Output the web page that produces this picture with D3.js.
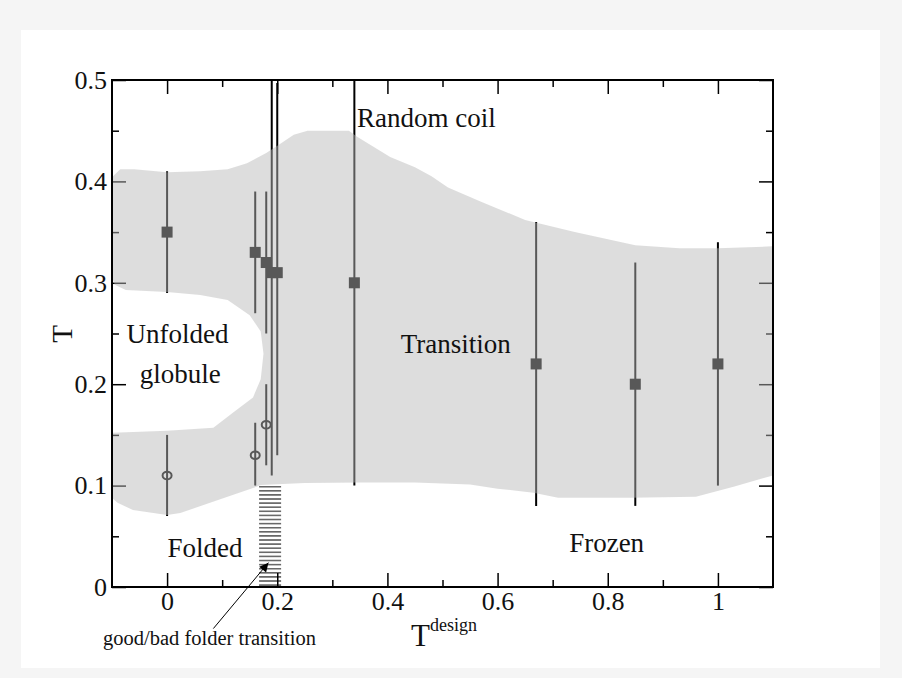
<!DOCTYPE html>
<html>
<head>
<meta charset="utf-8">
<script src="https://cdn.jsdelivr.net/npm/d3@7"></script>
<style>
  html, body { margin: 0; padding: 0; background: #f5f5f5; }
  svg { display: block; }
  text { font-family: "Liberation Serif", "Times New Roman", serif; fill: #111; }
</style>
</head>
<body>
<svg id="chart" width="902" height="678"></svg>
<script>
// Transition temperature (squares) vs design temperature, with error ranges
const transitionX  = [0, 0.16, 0.18, 0.19, 0.20, 0.34, 0.67, 0.85, 1.0];
const transitionT  = [0.35, 0.33, 0.32, 0.31, 0.31, 0.30, 0.22, 0.20, 0.22];
const transitionLo = [0.29, 0.27, 0.25, 0.11, 0.13, 0.10, 0.08, 0.08, 0.10];
const transitionHi = [0.41, 0.39, 0.39, 0.56, 0.497, 0.56, 0.36, 0.32, 0.34];

// Folding temperature (open circles) with error ranges
const foldingX  = [0, 0.16, 0.18];
const foldingT  = [0.11, 0.13, 0.16];
const foldingLo = [0.07, 0.10, 0.12];
const foldingHi = [0.15, 0.162, 0.20];

// Outline of the shaded transition band: upper edge (left to right)
const bandUpper = [[-0.1,0.404],[-0.085,0.412],[-0.06,0.412],[0.0,0.409],[0.06,0.410],[0.11,0.412],
  [0.145,0.418],[0.18,0.428],[0.205,0.437],[0.23,0.446],[0.255,0.450],[0.33,0.450],[0.345,0.444],
  [0.405,0.424],[0.45,0.414],[0.48,0.405],[0.51,0.394],[0.57,0.380],[0.65,0.362],[0.74,0.350],
  [0.85,0.337],[0.93,0.334],[1.0,0.334],[1.1,0.336]];
// lower edge (right to left)
const bandLower = [[1.1,0.110],[1.08,0.107],[1.03,0.099],[0.96,0.089],[0.84,0.088],[0.71,0.088],
  [0.665,0.093],[0.60,0.097],[0.55,0.101],[0.45,0.103],[0.35,0.103],[0.25,0.1025],[0.17,0.1005],
  [0.156,0.0976],[0.078,0.083],[0.024,0.073],[0.0,0.071],[-0.062,0.076],[-0.09,0.083],[-0.1,0.088]];
// unfolded-globule pocket cut into the band from the left
const globuleEdge = [[-0.1,0.152],[0.0,0.154],[0.084,0.157],[0.12,0.172],[0.156,0.187],[0.170,0.205],
  [0.175,0.23],[0.170,0.252],[0.15,0.268],[0.11,0.283],[0.06,0.288],[0.0,0.291],[-0.075,0.293],
  [-0.095,0.298],[-0.1,0.306]];

// Good/bad folder transition strip
const hatchX = [0.167, 0.207];
const hatchT = [0, 0.1];

// Axis ticks
const xMajor = [0, 0.2, 0.4, 0.6, 0.8, 1.0];
const xMinor = [0.1, 0.3, 0.5, 0.7, 0.9];
const xTickLabels = ["0", "0.2", "0.4", "0.6", "0.8", "1"];
const yMajor = [0, 0.1, 0.2, 0.3, 0.4, 0.5];
const yMinor = [0.05, 0.15, 0.25, 0.35, 0.45];
const yTickLabels = ["0", "0.1", "0.2", "0.3", "0.4", "0.5"];

// Region labels: [text, x, T, anchor]
const regionLabels = [
  ["Random coil", 0.345, 0.4536, "start"],
  ["Transition", 0.524, 0.231, "middle"],
  ["Unfolded", 0.019, 0.2406, "middle"],
  ["globule", 0.024, 0.201, "middle"],
  ["Folded", 0.069, 0.0296, "middle"],
  ["Frozen", 0.798, 0.0345, "middle"]
];
// Annotation arrow (tail, tip) in data units
const noteText = "good/bad folder transition";
const noteTail = [0.084, -0.041];
const noteTip = [0.184, 0.024];

const svg = d3.select("#chart");
const W = 902, H = 678;
const m = { left: 112, top: 80, right: 129, bottom: 91 };
const pw = W - m.left - m.right, ph = H - m.top - m.bottom;

const x = d3.scaleLinear().domain([-0.1, 1.1]).range([0, pw]);
const y = d3.scaleLinear().domain([0, 0.5]).range([ph, 0]);

// page panel
svg.append("rect").attr("x", 21).attr("y", 30).attr("width", 859).attr("height", 638).attr("fill", "#fff");

const g = svg.append("g").attr("transform", `translate(${m.left},${m.top})`);

const defs = svg.append("defs");
defs.append("clipPath").attr("id", "plotClip")
  .append("rect").attr("x", 0).attr("y", 0).attr("width", pw).attr("height", ph);
defs.append("clipPath").attr("id", "bandClip")
  .append("rect").attr("x", 1).attr("y", 1).attr("width", pw - 2).attr("height", ph - 2);
const pat = defs.append("pattern").attr("id", "hatch").attr("patternUnits", "userSpaceOnUse")
  .attr("width", 8).attr("height", 4.1);
pat.append("rect").attr("x", 0).attr("y", 0).attr("width", 8).attr("height", 1.6).attr("fill", "#666");
defs.append("marker").attr("id", "arrowHead").attr("viewBox", "0 0 10 10")
  .attr("refX", 10).attr("refY", 5).attr("markerWidth", 15).attr("markerHeight", 9)
  .attr("markerUnits", "userSpaceOnUse").attr("orient", "auto")
  .append("path").attr("d", "M0,0 L10,5 L0,10 Z").attr("fill", "#000");

// hatched strip
g.append("rect")
  .attr("x", x(hatchX[0])).attr("width", x(hatchX[1]) - x(hatchX[0]))
  .attr("y", y(hatchT[1])).attr("height", y(hatchT[0]) - y(hatchT[1]))
  .attr("fill", "url(#hatch)");

const marks = g.append("g").attr("clip-path", "url(#plotClip)");

// error bars
const tData = transitionX.map((v, i) => ({ x: v, t: transitionT[i], lo: transitionLo[i], hi: transitionHi[i] }));
const fData = foldingX.map((v, i) => ({ x: v, t: foldingT[i], lo: foldingLo[i], hi: foldingHi[i] }));

marks.selectAll("line.terr").data(tData).join("line").attr("class", "terr")
  .attr("x1", d => x(d.x)).attr("x2", d => x(d.x))
  .attr("y1", d => y(d.lo)).attr("y2", d => y(d.hi))
  .attr("stroke", "#000").attr("stroke-width", 2);
marks.selectAll("line.ferr").data(fData).join("line").attr("class", "ferr")
  .attr("x1", d => x(d.x)).attr("x2", d => x(d.x))
  .attr("y1", d => y(d.lo)).attr("y2", d => y(d.hi))
  .attr("stroke", "#000").attr("stroke-width", 2);

const sq = 11;
marks.selectAll("rect.tpt").data(tData).join("rect").attr("class", "tpt")
  .attr("x", d => x(d.x) - sq / 2).attr("y", d => y(d.t) - sq / 2)
  .attr("width", sq).attr("height", sq).attr("fill", "#000");
marks.selectAll("ellipse.fpt").data(fData).join("ellipse").attr("class", "fpt")
  .attr("cx", d => x(d.x)).attr("cy", d => y(d.t)).attr("rx", 4.5).attr("ry", 3.8)
  .attr("fill", "none").attr("stroke", "#000").attr("stroke-width", 2);

// axes with inward ticks on all four sides
function styleAxis(sel) {
  sel.select(".domain").remove();
  sel.selectAll(".tick line").attr("stroke", "#000").attr("stroke-width", 1.5);
  sel.selectAll("text").attr("font-size", 26).attr("fill", "#111")
    .attr("font-family", "Liberation Serif, Times New Roman, serif");
}
g.append("g").attr("transform", `translate(0,${ph})`)
  .call(d3.axisBottom(x).tickValues(xMajor).tickSize(-14).tickPadding(5)
    .tickFormat((d, i) => xTickLabels[i])).call(styleAxis);
g.append("g").attr("transform", `translate(0,${ph})`)
  .call(d3.axisBottom(x).tickValues(xMinor).tickSize(-7).tickFormat("")).call(styleAxis);
g.append("g")
  .call(d3.axisTop(x).tickValues(xMajor).tickSize(-14).tickFormat("")).call(styleAxis);
g.append("g")
  .call(d3.axisTop(x).tickValues(xMinor).tickSize(-7).tickFormat("")).call(styleAxis);
g.append("g")
  .call(d3.axisLeft(y).tickValues(yMajor).tickSize(-14).tickPadding(5)
    .tickFormat((d, i) => yTickLabels[i])).call(styleAxis);
g.append("g")
  .call(d3.axisLeft(y).tickValues(yMinor).tickSize(-7).tickFormat("")).call(styleAxis);
g.append("g").attr("transform", `translate(${pw},0)`)
  .call(d3.axisRight(y).tickValues(yMajor).tickSize(-14).tickFormat("")).call(styleAxis);
g.append("g").attr("transform", `translate(${pw},0)`)
  .call(d3.axisRight(y).tickValues(yMinor).tickSize(-7).tickFormat("")).call(styleAxis);

// translucent transition band laid over the data
const bandOutline = bandUpper.concat(bandLower, globuleEdge);
g.append("path")
  .attr("clip-path", "url(#bandClip)")
  .attr("d", d3.line().x(d => x(d[0])).y(d => y(d[1])).curve(d3.curveLinearClosed)(bandOutline))
  .attr("fill", "#b8b8b8").attr("fill-opacity", 0.48);

// frame
g.append("rect").attr("x", 0).attr("y", 0).attr("width", pw).attr("height", ph)
  .attr("fill", "none").attr("stroke", "#000").attr("stroke-width", 2);

// region labels
g.selectAll("text.region").data(regionLabels).join("text").attr("class", "region")
  .attr("x", d => x(d[1])).attr("y", d => y(d[2])).attr("text-anchor", d => d[3])
  .attr("font-size", 27).text(d => d[0]);

// axis titles
svg.append("text").attr("transform", "translate(72,334) rotate(-90)")
  .attr("text-anchor", "middle").attr("font-size", 29).text("T");
const xt = svg.append("text").attr("x", 411).attr("y", 646).attr("font-size", 31);
xt.append("tspan").text("T");
xt.append("tspan").attr("font-size", 18).attr("dy", -15).text("design");

// annotation
g.append("line")
  .attr("x1", x(noteTail[0])).attr("y1", y(noteTail[1]))
  .attr("x2", x(noteTip[0])).attr("y2", y(noteTip[1]))
  .attr("stroke", "#000").attr("stroke-width", 1).attr("marker-end", "url(#arrowHead)");
svg.append("text").attr("x", 103).attr("y", 645).attr("font-size", 20.5).text(noteText);
</script>
</body>
</html>
